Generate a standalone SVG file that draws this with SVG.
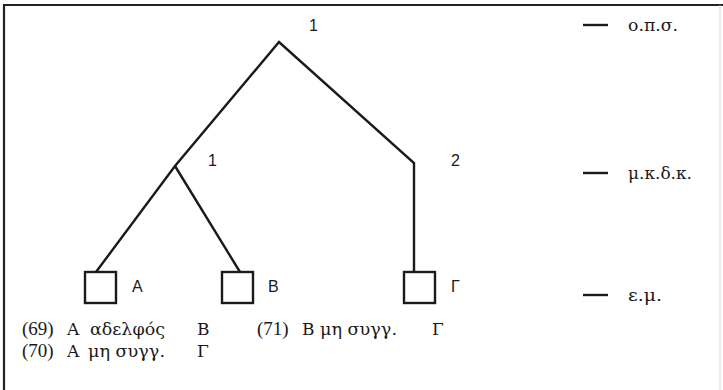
<svg xmlns="http://www.w3.org/2000/svg" width="723" height="390" viewBox="0 0 723 390">
<style>
.ln{fill:none;stroke:#1a1a1a;stroke-width:2.4;stroke-linejoin:miter}
.bx{fill:#fff;stroke:#1a1a1a;stroke-width:2.4}
.sans{font-family:"Liberation Sans",Arial,sans-serif;font-size:16px;fill:#1a1a1a}
.ser{font-family:"Liberation Serif","DejaVu Serif","Times New Roman",serif;font-size:19px;fill:#1a1a1a}
.gr{font-family:"DejaVu Serif","Liberation Serif",serif;font-size:17px;fill:#1a1a1a}
.dash{stroke:#1a1a1a;stroke-width:2.4}
</style>
<rect width="723" height="390" fill="#fff"/>
<g id="frame">
<line x1="4" y1="5" x2="4" y2="390" stroke="#222" stroke-width="2.2"/>
<line x1="3" y1="5" x2="723" y2="5" stroke="#222" stroke-width="2"/>
<line x1="720" y1="5" x2="720" y2="390" stroke="#ddd" stroke-width="1"/>
</g>
<g id="connectors">
<polyline class="ln" points="96,272 175,166 279,42 414,163 414,272"/>
<line class="ln" x1="175" y1="166" x2="240" y2="272"/>
</g>
<g id="node-root"><text class="sans" x="309" y="31">1</text></g>
<g id="node-mid1"><text class="sans" x="208" y="166">1</text></g>
<g id="node-mid2"><text class="sans" x="451" y="166">2</text></g>
<g id="node-A"><rect class="bx" x="85" y="272" width="31" height="31"/><text class="sans" x="132" y="292">Α</text></g>
<g id="node-B"><rect class="bx" x="222" y="272" width="31" height="31"/><text class="sans" x="268" y="292">Β</text></g>
<g id="node-G"><rect class="bx" x="404" y="272" width="31" height="31"/><text class="sans" x="451" y="292">Γ</text></g>
<g id="legend">
<line class="dash" x1="583" y1="25" x2="608" y2="25"/>
<text class="gr" x="628" y="31" textLength="50" lengthAdjust="spacingAndGlyphs">ο.π.σ.</text>
<line class="dash" x1="583" y1="173" x2="608" y2="173"/>
<text class="gr" x="628" y="179" textLength="64" lengthAdjust="spacingAndGlyphs">μ.κ.δ.κ.</text>
<line class="dash" x1="583" y1="295" x2="608" y2="295"/>
<text class="gr" x="628" y="301" textLength="34" lengthAdjust="spacingAndGlyphs">ε.μ.</text>
</g>
<g id="examples">
<text class="ser" x="22" y="335">(69)</text>
<text class="gr" x="67" y="335">Α</text>
<text class="gr" x="90" y="335" textLength="75" lengthAdjust="spacingAndGlyphs">αδελφός</text>
<text class="gr" x="197" y="335">Β</text>
<text class="ser" x="257" y="335">(71)</text>
<text class="gr" x="302" y="335">Β</text>
<text class="gr" x="320" y="335" textLength="77" lengthAdjust="spacingAndGlyphs">μη συγγ.</text>
<text class="gr" x="432" y="335">Γ</text>
<text class="ser" x="22" y="357">(70)</text>
<text class="gr" x="67" y="357">Α</text>
<text class="gr" x="88" y="357" textLength="77" lengthAdjust="spacingAndGlyphs">μη συγγ.</text>
<text class="gr" x="197" y="357">Γ</text>
</g>
</svg>
